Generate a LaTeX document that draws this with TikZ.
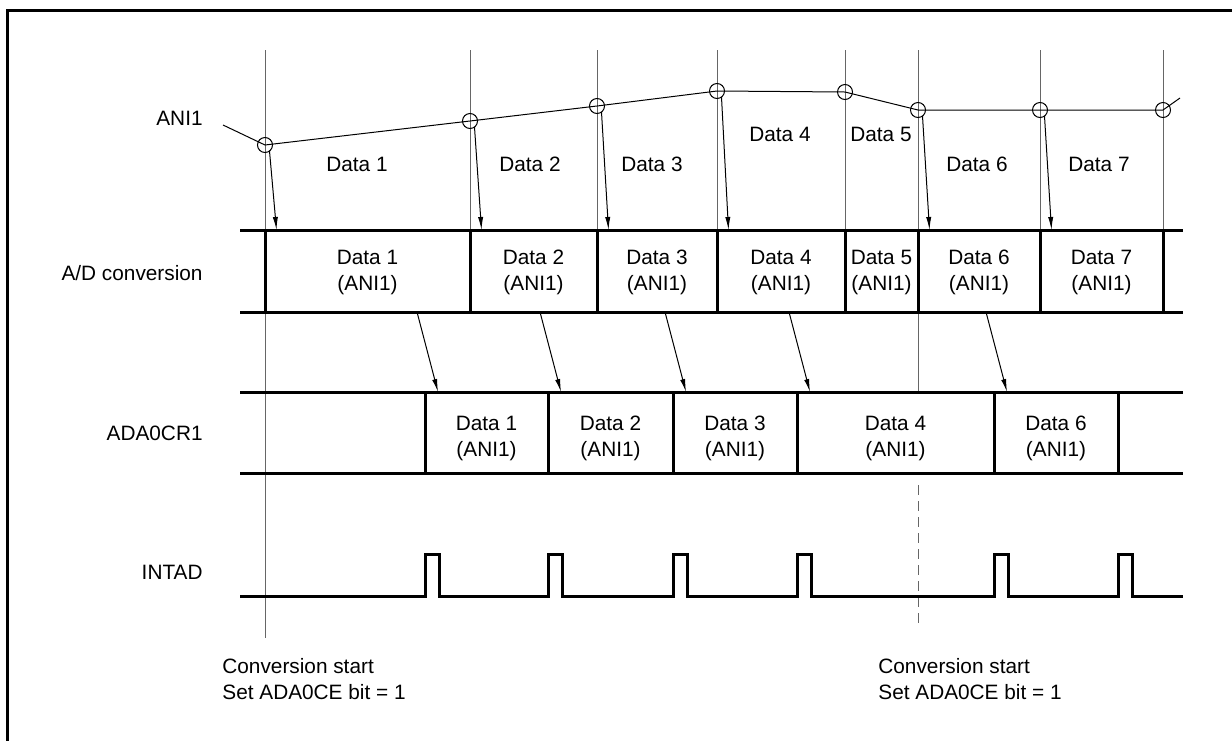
\documentclass[tikz,border=0pt]{standalone}
\usepackage{fontspec}
\setmainfont{Liberation Sans}
\usetikzlibrary{arrows.meta}

\tikzset{
    gridline/.style={draw=black!60, line width=0.5pt},
    bus/.style={line width=1.5pt, line join=miter},
    sig/.style={line width=0.5pt},
    samp/.style={-{Latex[length=6.5pt,width=2.6pt]}, line width=0.5pt},
    lbl/.style={font=\fontsize{10.4}{13}\selectfont, inner sep=0pt, align=center},
}

\begin{document}
\begin{tikzpicture}[x=0.5pt,y=-0.5pt]
    \useasboundingbox (0,0) rectangle (1232,740);
    % frame
    \draw[line width=1.5pt] (7,745) -- (7,10) -- (1237,10);

    % sampling instants
    \foreach \x in {470,597,717,845,1040,1163}
        \draw[gridline] (\x,50) -- (\x,312);
    \draw[gridline] (265,50) -- (265,638);
    \draw[gridline] (918,50) -- (918,392);
    \draw[gridline, dashed, dash pattern=on 5pt off 3pt] (918,485) -- (918,623);

    % ANI1 signal
    \foreach \n/\x/\y in {1/265/145, 2/470/121, 3/597/106, 4/717/91,
                           5/845/92, 6/918/110, 7/1040/110, 8/1163/110}
        \coordinate (p\n) at (\x,\y);
    \coordinate (in) at (223,125);
    \coordinate (out) at (1180,98);
    \draw[sig] (in) -- (p1) -- (p2) -- (p3) -- (p4) -- (p5) -- (p6) -- (p7) -- (p8) -- (out);
    \foreach \n in {1,...,8}
        \draw[sig] (p\n) circle (7.5);
    \node[lbl, anchor=east] (ani) at (203,118) {ANI1};
    \node[lbl] (d1) at (357,164) {Data 1};
    \node[lbl] (d2) at (530,164) {Data 2};
    \node[lbl] (d3) at (652,164) {Data 3};
    \node[lbl] (d4) at (780,134) {Data 4};
    \node[lbl] (d5) at (881,134) {Data 5};
    \node[lbl] (d6) at (977,164) {Data 6};
    \node[lbl] (d7) at (1099,164) {Data 7};

    % sample -> A/D conversion
    \foreach \n/\x in {1/265, 2/470, 3/597, 4/717, 6/918, 7/1040} {
        \coordinate (a\n) at (\x+11.5,230);
        \draw[samp] ([shift={(4.5,6)}]p\n) -- (a\n);
    }

    % A/D conversion
    \node[lbl, anchor=east] (adc) at (203,273) {A/D conversion};
    \draw[bus] (240,230) -- (1183,230);
    \draw[bus] (240,312) -- (1183,312);
    \foreach \x in {265,470,597,717,845,918,1040,1163}
        \draw[bus] (\x,230) -- (\x,312);
    \foreach \n/\x in {1/367.5, 2/533.5, 3/657, 4/781, 5/881.5, 6/979, 7/1101.5}
        \node[lbl] (c\n) at (\x,272) {Data \n\\(ANI1)};

    % A/D result -> ADA0CR1
    \foreach \x in {425,548,673,797,994} {
        \coordinate (r\x) at (\x-8,312);
        \coordinate (w\x) at (\x+13,392);
        \draw[samp] (r\x) -- (w\x);
    }

    % ADA0CR1
    \node[lbl, anchor=east] (reg) at (203,433) {ADA0CR1};
    \draw[bus] (240,392) -- (1183,392);
    \draw[bus] (240,473) -- (1183,473);
    \foreach \x in {425,548,673,797,994,1118}
        \draw[bus] (\x,392) -- (\x,473);
    \foreach \n/\x in {1/486.5, 2/610.5, 3/735, 4/895.5, 6/1056}
        \node[lbl] (q\n) at (\x,438) {Data \n\\(ANI1)};

    % INTAD
    \node[lbl, anchor=east] (intad) at (203,572) {INTAD};
    \draw[bus] (240,596) \foreach \a in {425,548,673,797,994,1118} {
        -- (\a,596) -- (\a,554) -- (\a+14,554) -- (\a+14,596) } -- (1183,596);

    % conversion start notes
    \node[lbl, align=left, anchor=west] (st1) at (222,679) {Conversion start\\Set ADA0CE bit = 1};
    \node[lbl, align=left, anchor=west] (st2) at (878,679) {Conversion start\\Set ADA0CE bit = 1};
\end{tikzpicture}
\end{document}
